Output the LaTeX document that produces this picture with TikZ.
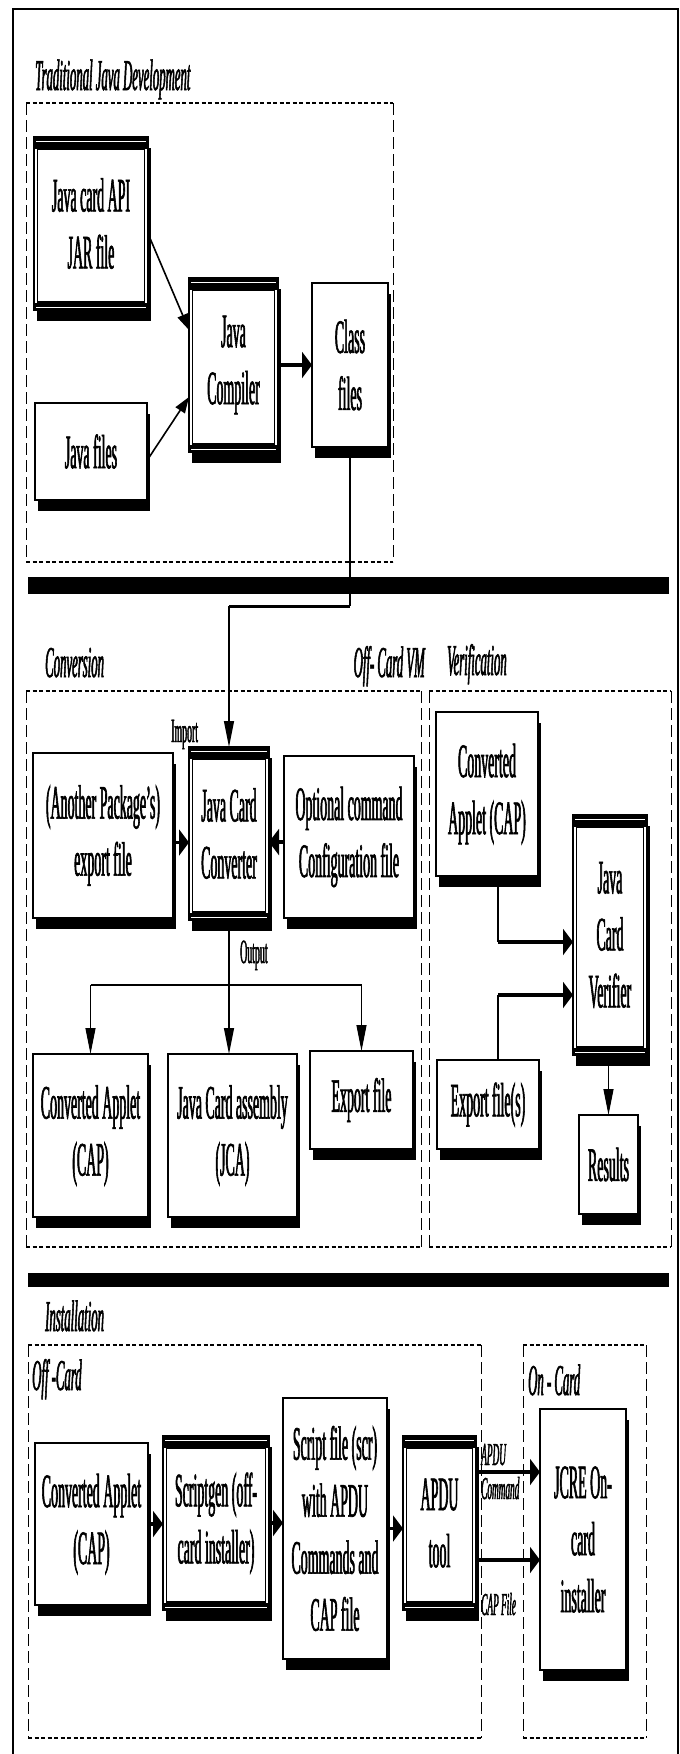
\documentclass[tikz,border=0pt]{standalone}
\usepackage{fontspec}
\setmainfont{Liberation Serif}
\newfontfamily\condf[FakeStretch=0.29,FakeBold=1.2]{Liberation Serif}
\usetikzlibrary{arrows.meta,shadows,calc}

\tikzset{
 box/.style={draw, fill=white, line width=1.3pt, inner sep=0pt, outer sep=0pt, align=center,
   font=\condf\fontsize{48}{57}\selectfont,
   general shadow={fill=black, shadow xshift=3pt, shadow yshift=-11pt}},
 dbox/.style={box, line width=2.2pt},
 sect/.style={font=\condf\itshape\fontsize{44}{50}\selectfont, inner sep=0pt},
 small/.style={font=\condf\fontsize{34}{40}\selectfont, inner sep=0pt},
 tinyit/.style={font=\condf\itshape\fontsize{32}{36}\selectfont, inner sep=0pt},
 hdash/.style={line width=1.6pt, dash pattern=on 4pt off 2.5pt},
 vdash/.style={line width=1pt, dash pattern=on 12pt off 5pt},
 conn/.style={line width=1.1pt},
 thickh/.style={line width=3.5pt},
 harr/.style={-{Triangle[length=10pt,width=26pt]}},
 varr/.style={-{Triangle[length=26pt,width=10pt]}},
 darr/.style={-{Triangle[length=16pt,width=11pt]}},
}

\newcommand{\mkbox}[7][box]{\node[#1, minimum width={(#5-#3)*1pt}, minimum height={(#6-#4)*1pt}] (#2) at ({(#3+#5)/2},{(#4+#6)/2}) {#7};}
\newcommand{\dframe}[1]{%
 \fill (#1.north west) rectangle ([yshift=-12pt]#1.north east);
 \fill ([yshift=7pt]#1.south west) rectangle (#1.south east);
 \draw[white, line width=0.9pt] ([xshift=2pt,yshift=-4.5pt]#1.north west) -- ([xshift=-2pt,yshift=-4.5pt]#1.north east);
 \draw[line width=1.6pt] ([xshift=3.5pt,yshift=-12pt]#1.north west) rectangle ([xshift=-3.5pt,yshift=8pt]#1.south east);
 \draw[white, line width=0.9pt] ([xshift=2pt,yshift=3pt]#1.south west) -- ([xshift=-2pt,yshift=3pt]#1.south east);
}
\newcommand{\mydashrect}[4]{%
 \draw[hdash] (#1,#2) -- (#3,#2);
 \draw[hdash] (#1,#4) -- (#3,#4);
 \draw[vdash] (#1,#2) -- (#1,#4);
 \draw[vdash] (#3,#2) -- (#3,#4);
}

\begin{document}
\begin{tikzpicture}[x=1pt,y=-1pt]
\useasboundingbox (0,0) rectangle (680,1754);
\fill[white] (0,0) rectangle (680,1754);

% outer frame
\draw[line width=1.2pt] (13,1754) -- (13,9) -- (678,9) -- (678,1754);

% dashed groups
\mydashrect{26}{103}{393}{562}
\mydashrect{26}{691}{421}{1247}
\mydashrect{429}{691}{671}{1247}
\mydashrect{28}{1345}{481}{1738}
\mydashrect{523}{1345}{646}{1738}

% bars
\fill (28,577) rectangle (669,594);
\fill (28,1273) rectangle (669,1287);

% section labels
\node[sect, anchor=base west] (lt) at (35,90) {Traditional Java Development};
\node[sect, anchor=base west] (lconv) at (45,677) {Conversion};
\node[sect, anchor=base east] (lvm) at (425,677) {Off- Card VM};
\node[sect, anchor=base west] (lver) at (447,675) {Verification};
\node[sect, anchor=base west] (linst) at (45,1331) {Installation};
\node[sect, anchor=base west] (loff) at (32,1390) {Off -Card};
\node[sect, anchor=base west] (lon) at (528,1395) {On - Card};

% ---- Traditional Java Development ----
\mkbox[dbox]{jar}{34}{137}{148}{310}{Java card API\\JAR file}
\dframe{jar}
\mkbox{javaf}{35}{403}{147}{500}{Java files}
\mkbox[dbox]{comp}{189}{278}{278}{452}{Java\\Compiler}
\dframe{comp}
\mkbox{cls}{312}{283}{388}{447}{Class\\files}

\draw[line width=1.6pt, darr] ($(jar.east)+(0,10)$) -- ($(comp.west)+(0,-35)$);
\draw[line width=1.6pt, darr] ($(javaf.east)+(0,9)$) -- ($(comp.west)+(0,32)$);
\draw[thickh, harr] (comp.east) -- (comp.east -| cls.west);

% ---- Conversion ----
\mkbox{another}{33}{753}{173}{918}{(Another Package’s)\\export file}
\mkbox[dbox]{conv}{189}{747}{269}{920}{Java Card\\Converter}
\dframe{conv}
\mkbox{opt}{284}{756}{414}{918}{Optional command\\Configuration file}
\mkbox{cap1}{33}{1054}{148}{1217}{Converted Applet\\(CAP)}
\mkbox{jca}{168}{1054}{297}{1217}{Java Card assembly\\(JCA)}
\mkbox{exp}{310}{1051}{413}{1149}{Export file}

\coordinate (c1) at ($(cls.south)+(0,159)$);
\draw[conn] (cls.south) -- (c1);
\draw[line width=3pt] (c1) -- (c1 -| conv.north);
\draw[conn, varr] (c1 -| conv.north) -- (conv.north);
\node[small, anchor=base west] (limp) at (171,742) {Import};

\coordinate (t1) at ($(another.east)+(0,7)$);
\draw[thickh, harr] (t1) -- (t1 -| conv.west);
\coordinate (t2) at ($(opt.west)+(0,5)$);
\draw[thickh, harr] (t2) -- (t2 -| conv.east);

\draw[conn, varr] (conv.south) -- (conv.south |- jca.north);
\coordinate (br) at ($(conv.south)+(0,65)$);
\draw[line width=2.5pt] (br -| cap1.north) -- (br -| exp.north);
\draw[conn, varr] (br -| cap1.north) -- (cap1.north);
\draw[conn, varr] (br -| exp.north) -- (exp.north);
\node[small, anchor=base west] (lout) at (240,963) {Output};

% ---- Verification ----
\mkbox{cap2}{436}{712}{538}{876}{Converted\\Applet (CAP)}
\mkbox[dbox]{ver}{573}{815}{647}{1055}{Java\\Card\\Verifier}
\dframe{ver}
\mkbox{expf}{437}{1060}{539}{1149}{Export file(s)}
\mkbox{res}{579}{1115}{638}{1214}{Results}

\coordinate (v1) at ($(cap2.south)+(11,0)$);
\coordinate (v2) at ($(v1 |- ver.west)+(0,7)$);
\draw[conn] (v1) -- (v2);
\draw[thickh, harr] (v2) -- (v2 -| ver.west);
\coordinate (w1) at ($(expf.north)+(10,0)$);
\coordinate (w2) at ($(w1 |- ver.west)+(0,60)$);
\draw[conn] (w1) -- (w2);
\draw[thickh, harr] (w2) -- (w2 -| ver.west);
\draw[conn, varr] (res.north |- ver.south) -- (res.north);

% ---- Installation ----
\mkbox{cap3}{35}{1443}{148}{1605}{Converted Applet\\(CAP)}
\mkbox[dbox]{sg}{163}{1436}{269}{1610}{Scriptgen (off-\\card installer)}
\dframe{sg}
\mkbox{scr}{283}{1398}{387}{1659}{Script file (scr)\\with APDU\\Commands and\\CAP file}
\mkbox[dbox]{apdu}{403}{1436}{476}{1610}{APDU\\tool}
\dframe{apdu}
\mkbox{jcre}{540}{1409}{626}{1670}{JCRE On-\\card\\installer}

\draw[thickh, harr] (cap3.east) -- (cap3.east -| sg.west);
\draw[thickh, harr] (sg.east) -- (sg.east -| scr.west);
\draw[thickh, harr] (scr.east) -- (scr.east -| apdu.west);
\coordinate (u1) at ($(apdu.east)+(0,-51)$);
\draw[thickh, harr] (u1) -- (u1 -| jcre.west);
\coordinate (u2) at ($(apdu.east)+(0,37)$);
\draw[thickh, harr] (u2) -- (u2 -| jcre.west);
\node[tinyit, anchor=base west] (lapdu) at (481,1465) {APDU};
\node[tinyit, anchor=base west] (lcmd) at (481,1499) {Command};
\node[tinyit, anchor=base west] (lcapf) at (481,1615) {CAP File};
\end{tikzpicture}
\end{document}
